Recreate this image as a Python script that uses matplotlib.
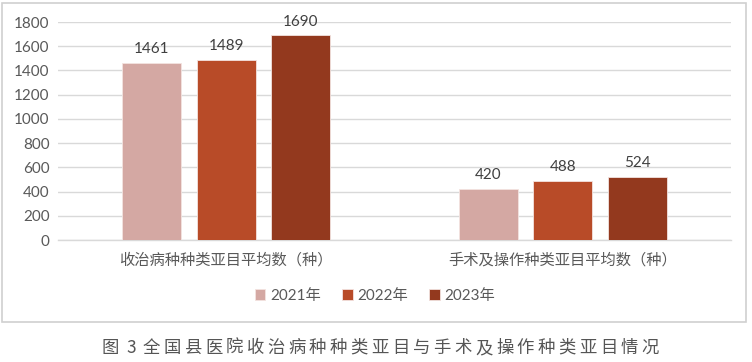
import matplotlib.pyplot as plt
import numpy as np
from matplotlib.patches import Rectangle

plt.rcParams['font.family'] = ['Lato', 'Noto Sans CJK SC', 'DejaVu Sans']

categories = ["收治病种种类亚目平均数（种）", "手术及操作种类亚目平均数（种）"]
years = ["2021年", "2022年", "2023年"]
values = {
    "2021年": [1461, 420],
    "2022年": [1489, 488],
    "2023年": [1690, 524],
}
colors = ["#D4A8A3", "#B84B28", "#93391E"]
caption = "图3全国县医院收治病种种类亚目与手术及操作种类亚目情况"

fig = plt.figure(figsize=(7.52, 3.62), dpi=100)
ax = fig.add_axes([58 / 752, 1 - 240 / 362, (731 - 58) / 752, (240 - 22) / 362])

x = np.arange(len(categories))
w = 0.175
step = 0.221
grey = "#595959"
for i, y in enumerate(years):
    pos = x + (i - 1) * step
    bars = ax.bar(pos, values[y], width=w, color=colors[i], label=y,
                  edgecolor="#f3e3e0", linewidth=0.6, zorder=3)
    for b, v in zip(bars, values[y]):
        ax.text(b.get_x() + b.get_width() / 2, v + 55, str(v), ha="center",
                va="bottom", fontsize=11, color="#404040")

ax.set_xlim(-0.5, 1.5)
ax.set_ylim(0, 1800)
ax.set_yticks(range(0, 1801, 200))
ax.yaxis.grid(True, color="#d9d9d9", linewidth=1, zorder=0)
ax.set_axisbelow(True)
for s in ["top", "right", "left"]:
    ax.spines[s].set_visible(False)
ax.spines["bottom"].set_color("#d9d9d9")
ax.spines["bottom"].set_linewidth(1)
ax.tick_params(axis="both", length=0, colors=grey, labelsize=11)
ax.tick_params(axis="y", pad=6)
ax.set_xticks(x)
ax.set_xticklabels(categories, fontsize=11, color=grey,
                   family=['Noto Sans CJK SC', 'DejaVu Sans'])
ax.tick_params(axis="x", pad=8)
for t in ax.get_yticklabels():
    t.set_color(grey)

leg = fig.legend(loc="center", bbox_to_anchor=(375 / 752, 1 - 296 / 362), ncol=3,
                 frameon=False, fontsize=11, handlelength=0.7, handleheight=0.7,
                 handletextpad=0.3, columnspacing=1.4)
for t in leg.get_texts():
    t.set_color(grey)

# outer frame of the chart
fig.patches.append(Rectangle((2 / 752, 1 - 322 / 362), 744 / 752, 319 / 362,
                             transform=fig.transFigure, fill=False,
                             edgecolor="#d0d0d0", linewidth=1.2))

# caption, with wide character spacing
x0, x1 = 110, 650
xs = np.linspace(x0, x1, len(caption))
for cx, ch in zip(xs, caption):
    fig.text(cx / 752, 1 - 348 / 362, ch, ha="center", va="center",
             fontsize=12.5, color="#555555", fontweight="light",
             family=['Noto Sans CJK SC', 'DejaVu Sans'])

fig.savefig("out.png", dpi=100)
